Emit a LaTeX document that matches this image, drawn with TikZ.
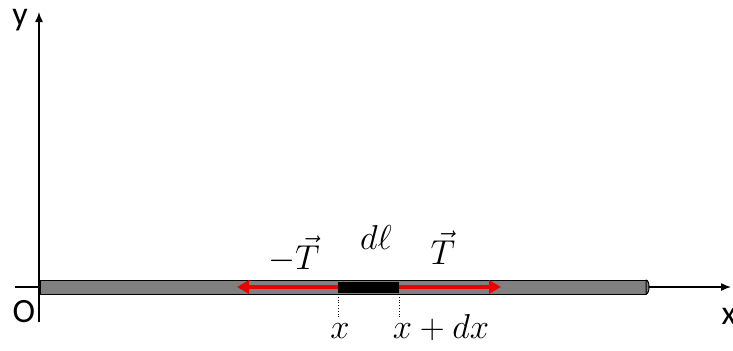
\documentclass[tikz,border=0pt]{standalone}
\usepackage{fontspec}
\newfontfamily\axisfont{Carlito}
\usetikzlibrary{arrows.meta}
\begin{document}
\begin{tikzpicture}
% Element of a stretched string lying on the x axis
\def\pxsz{0.5pt}
\providecommand{\rodFillColor}{black!50}
\providecommand{\forceColor}{red!92!black}
\providecommand{\axisLineWidth}{0.7pt}
\providecommand{\forceLineWidth}{2.4pt}
\begin{scope}[x=\pxsz, y=-\pxsz, line join=round,
  axislabel/.style={font=\axisfont\fontsize{17}{19}\selectfont, inner sep=0pt},
  mathlabel/.style={font=\fontsize{16.5}{19}\selectfont, inner sep=0pt}]
  \useasboundingbox (0,0) rectangle (733,350);
  % Key points
  \coordinate (O) at (39,287);
  \coordinate (ytop) at (39,12);
  \coordinate (ybot) at (39,322);
  \coordinate (xleft) at (15,287);
  \coordinate (xright) at (731,287);
  \coordinate (ela) at (338,287);
  \coordinate (elb) at (399,287);
  \coordinate (tipl) at (237,287);
  \coordinate (tipr) at (501,287);
  % Axes
  \draw[line width=\axisLineWidth] (ybot) -- (O);
  \draw[line width=\axisLineWidth, -{Latex[length=5pt, width=4pt]}] (O) -- (ytop);
  \draw[line width=\axisLineWidth, -{Latex[length=5pt, width=4pt]}] (xleft) -- (xright);
  % Rod with a rounded right end
  \filldraw[fill=\rodFillColor, draw=black, line width=0.5pt] (40,280) rectangle (646,294);
  \filldraw[fill=\rodFillColor, draw=black, line width=0.5pt] (646,280) .. controls (650,280) and (650,294) .. (646,294) -- cycle;
  % Element dl
  \fill[black] (338,281.5) rectangle (399,292.5);
  % Tension forces
  \draw[draw=\forceColor, line width=\forceLineWidth, -{Triangle[length=6pt, width=6.5pt]}] (ela) -- (tipl);
  \draw[draw=\forceColor, line width=\forceLineWidth, -{Triangle[length=6pt, width=6.5pt]}] (elb) -- (tipr);
  % Dotted marks
  \draw[densely dotted, line width=0.4pt] (338,294) -- (338,318);
  \draw[densely dotted, line width=0.4pt] (399,294) -- (399,318);
  % Labels
  \node[axislabel] (ylabel) at (20,20) {y};
  \node[axislabel] (olabel) at (24,312) {O};
  \node[axislabel] (xlabel) at (729,316) {x};
  \node[mathlabel] (mtlabel) at (294,254) {$-\vec{T}$};
  \node[mathlabel] (dllabel) at (376,237) {$d\ell$};
  \node[mathlabel] (tlabel) at (443,248) {$\vec{T}$};
  \node[mathlabel] (xalabel) at (340,331) {$x$};
  \node[mathlabel] (xblabel) at (441,328) {$x+dx$};
\end{scope}
\end{tikzpicture}
\end{document}
